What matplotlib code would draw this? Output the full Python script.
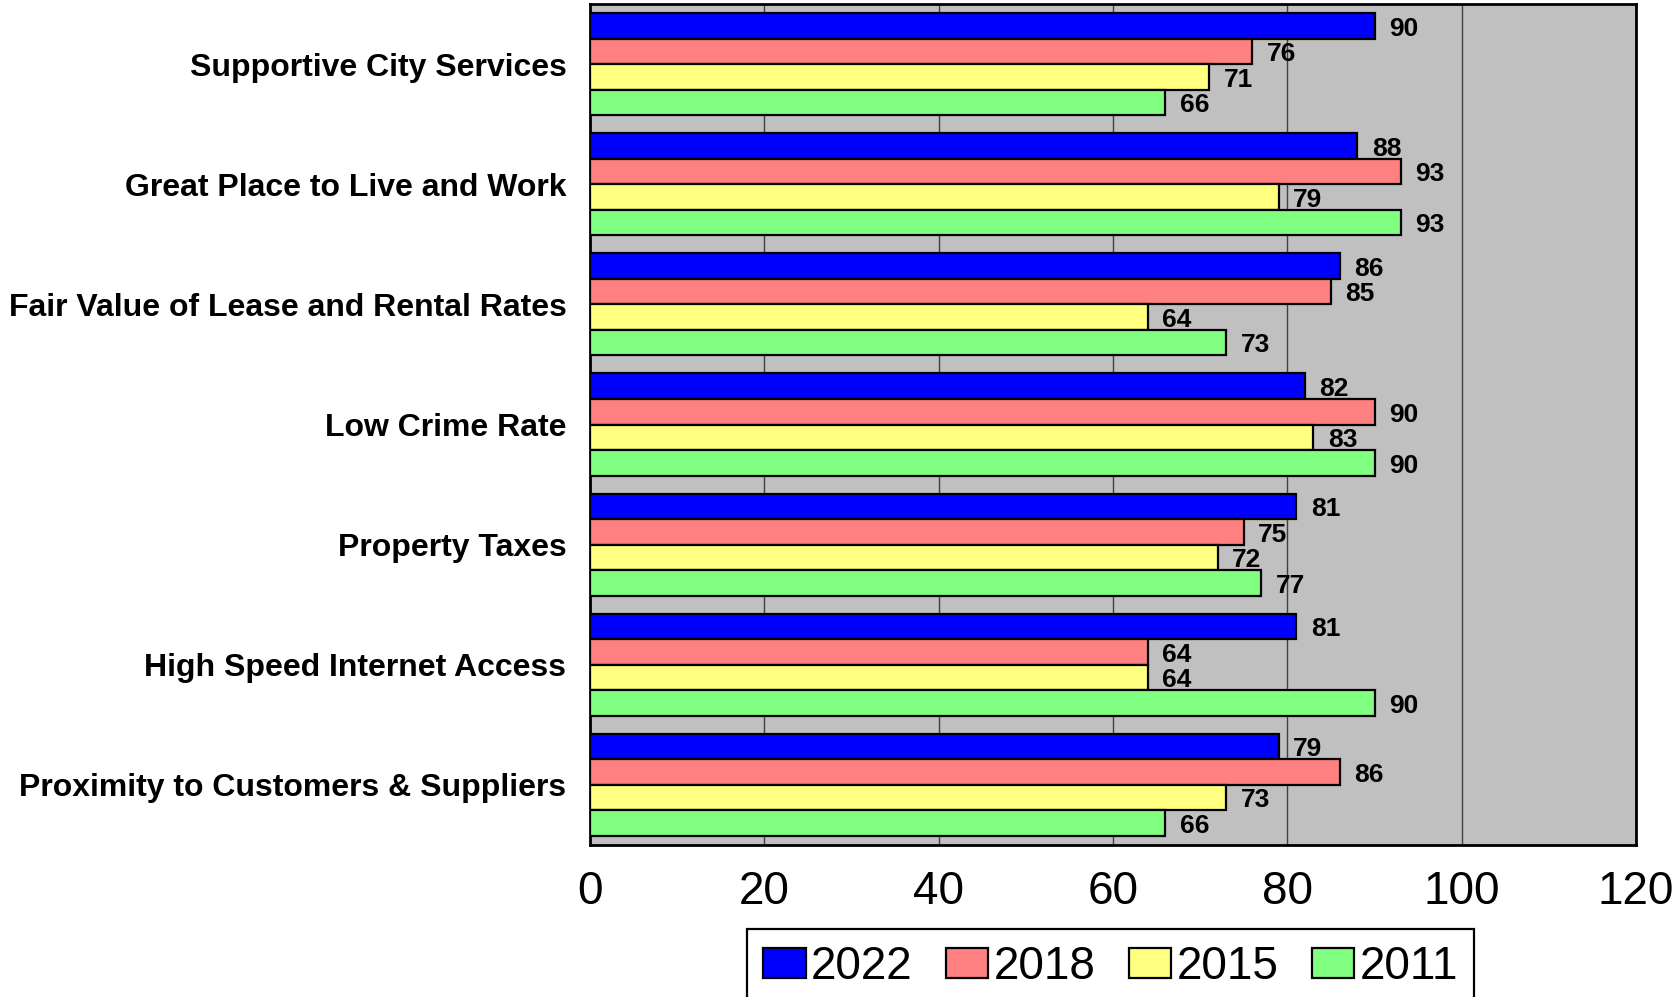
import numpy as np
import matplotlib
matplotlib.use("Agg")
import matplotlib.pyplot as plt

# categories top to bottom, one value list per survey year
categories = [
    "Supportive City Services",
    "Great Place to Live and Work",
    "Fair Value of Lease and Rental Rates",
    "Low Crime Rate",
    "Property Taxes",
    "High Speed Internet Access",
    "Proximity to Customers & Suppliers",
]
years = ["2022", "2018", "2015", "2011"]
vals_2022 = [90, 88, 86, 82, 81, 81, 79]
vals_2018 = [76, 93, 85, 90, 75, 64, 86]
vals_2015 = [71, 79, 64, 83, 72, 64, 73]
vals_2011 = [66, 93, 73, 90, 77, 90, 66]
xticks = [0, 20, 40, 60, 80, 100, 120]

series = [vals_2022, vals_2018, vals_2015, vals_2011]
colors = ["#0000FF", "#FF8080", "#FFFF80", "#80FF80"]

plt.rcParams['font.family'] = ['Liberation Sans', 'DejaVu Sans']

fig = plt.figure(figsize=(16.74, 9.97), dpi=100)
ax = fig.add_axes([590/1674, 1-845/997, (1636-590)/1674, (845-4)/997])
ax.set_facecolor("#C0C0C0")

h = 0.2125
y0 = np.arange(len(categories))
for i, (vals, c, yr) in enumerate(zip(series, colors, years)):
    ypos = y0 - 0.425 + h/2 + i*h
    ax.barh(ypos, vals, height=h, color=c, edgecolor="black", linewidth=1.6, label=yr, zorder=3)
    for y, v in zip(ypos, vals):
        ax.annotate(str(v), (v, y), xytext=(10.5, -2), textcoords="offset points",
                    ha="left", va="center", fontsize=19, fontweight="bold", zorder=4)

ax.set_ylim(len(categories)-0.5, -0.5)
ax.set_xlim(0, 120)
ax.set_yticks(y0)
ax.set_yticklabels(categories, fontsize=23, fontweight="bold")
ax.set_xticks(xticks)
ax.set_xticklabels([str(t) for t in xticks], fontsize=33)
ax.tick_params(axis="y", length=0, pad=17)
ax.tick_params(axis="x", length=0, pad=18)
ax.xaxis.grid(True, color="#404040", linewidth=1.0, zorder=1)
ax.set_axisbelow(True)
for s in ax.spines.values():
    s.set_linewidth(2)
    s.set_color("black")

leg = fig.legend(loc="upper left", bbox_to_anchor=(747/1674, 1-929/997), ncol=4, fontsize=33,
                 frameon=True, fancybox=False, edgecolor="black", framealpha=1,
                 handlelength=0.93, handleheight=0.63, handletextpad=0.12, columnspacing=0.72,
                 borderpad=0.35, borderaxespad=0)
leg.get_frame().set_linewidth(1.6)

fig.savefig("out.png", dpi=100)
